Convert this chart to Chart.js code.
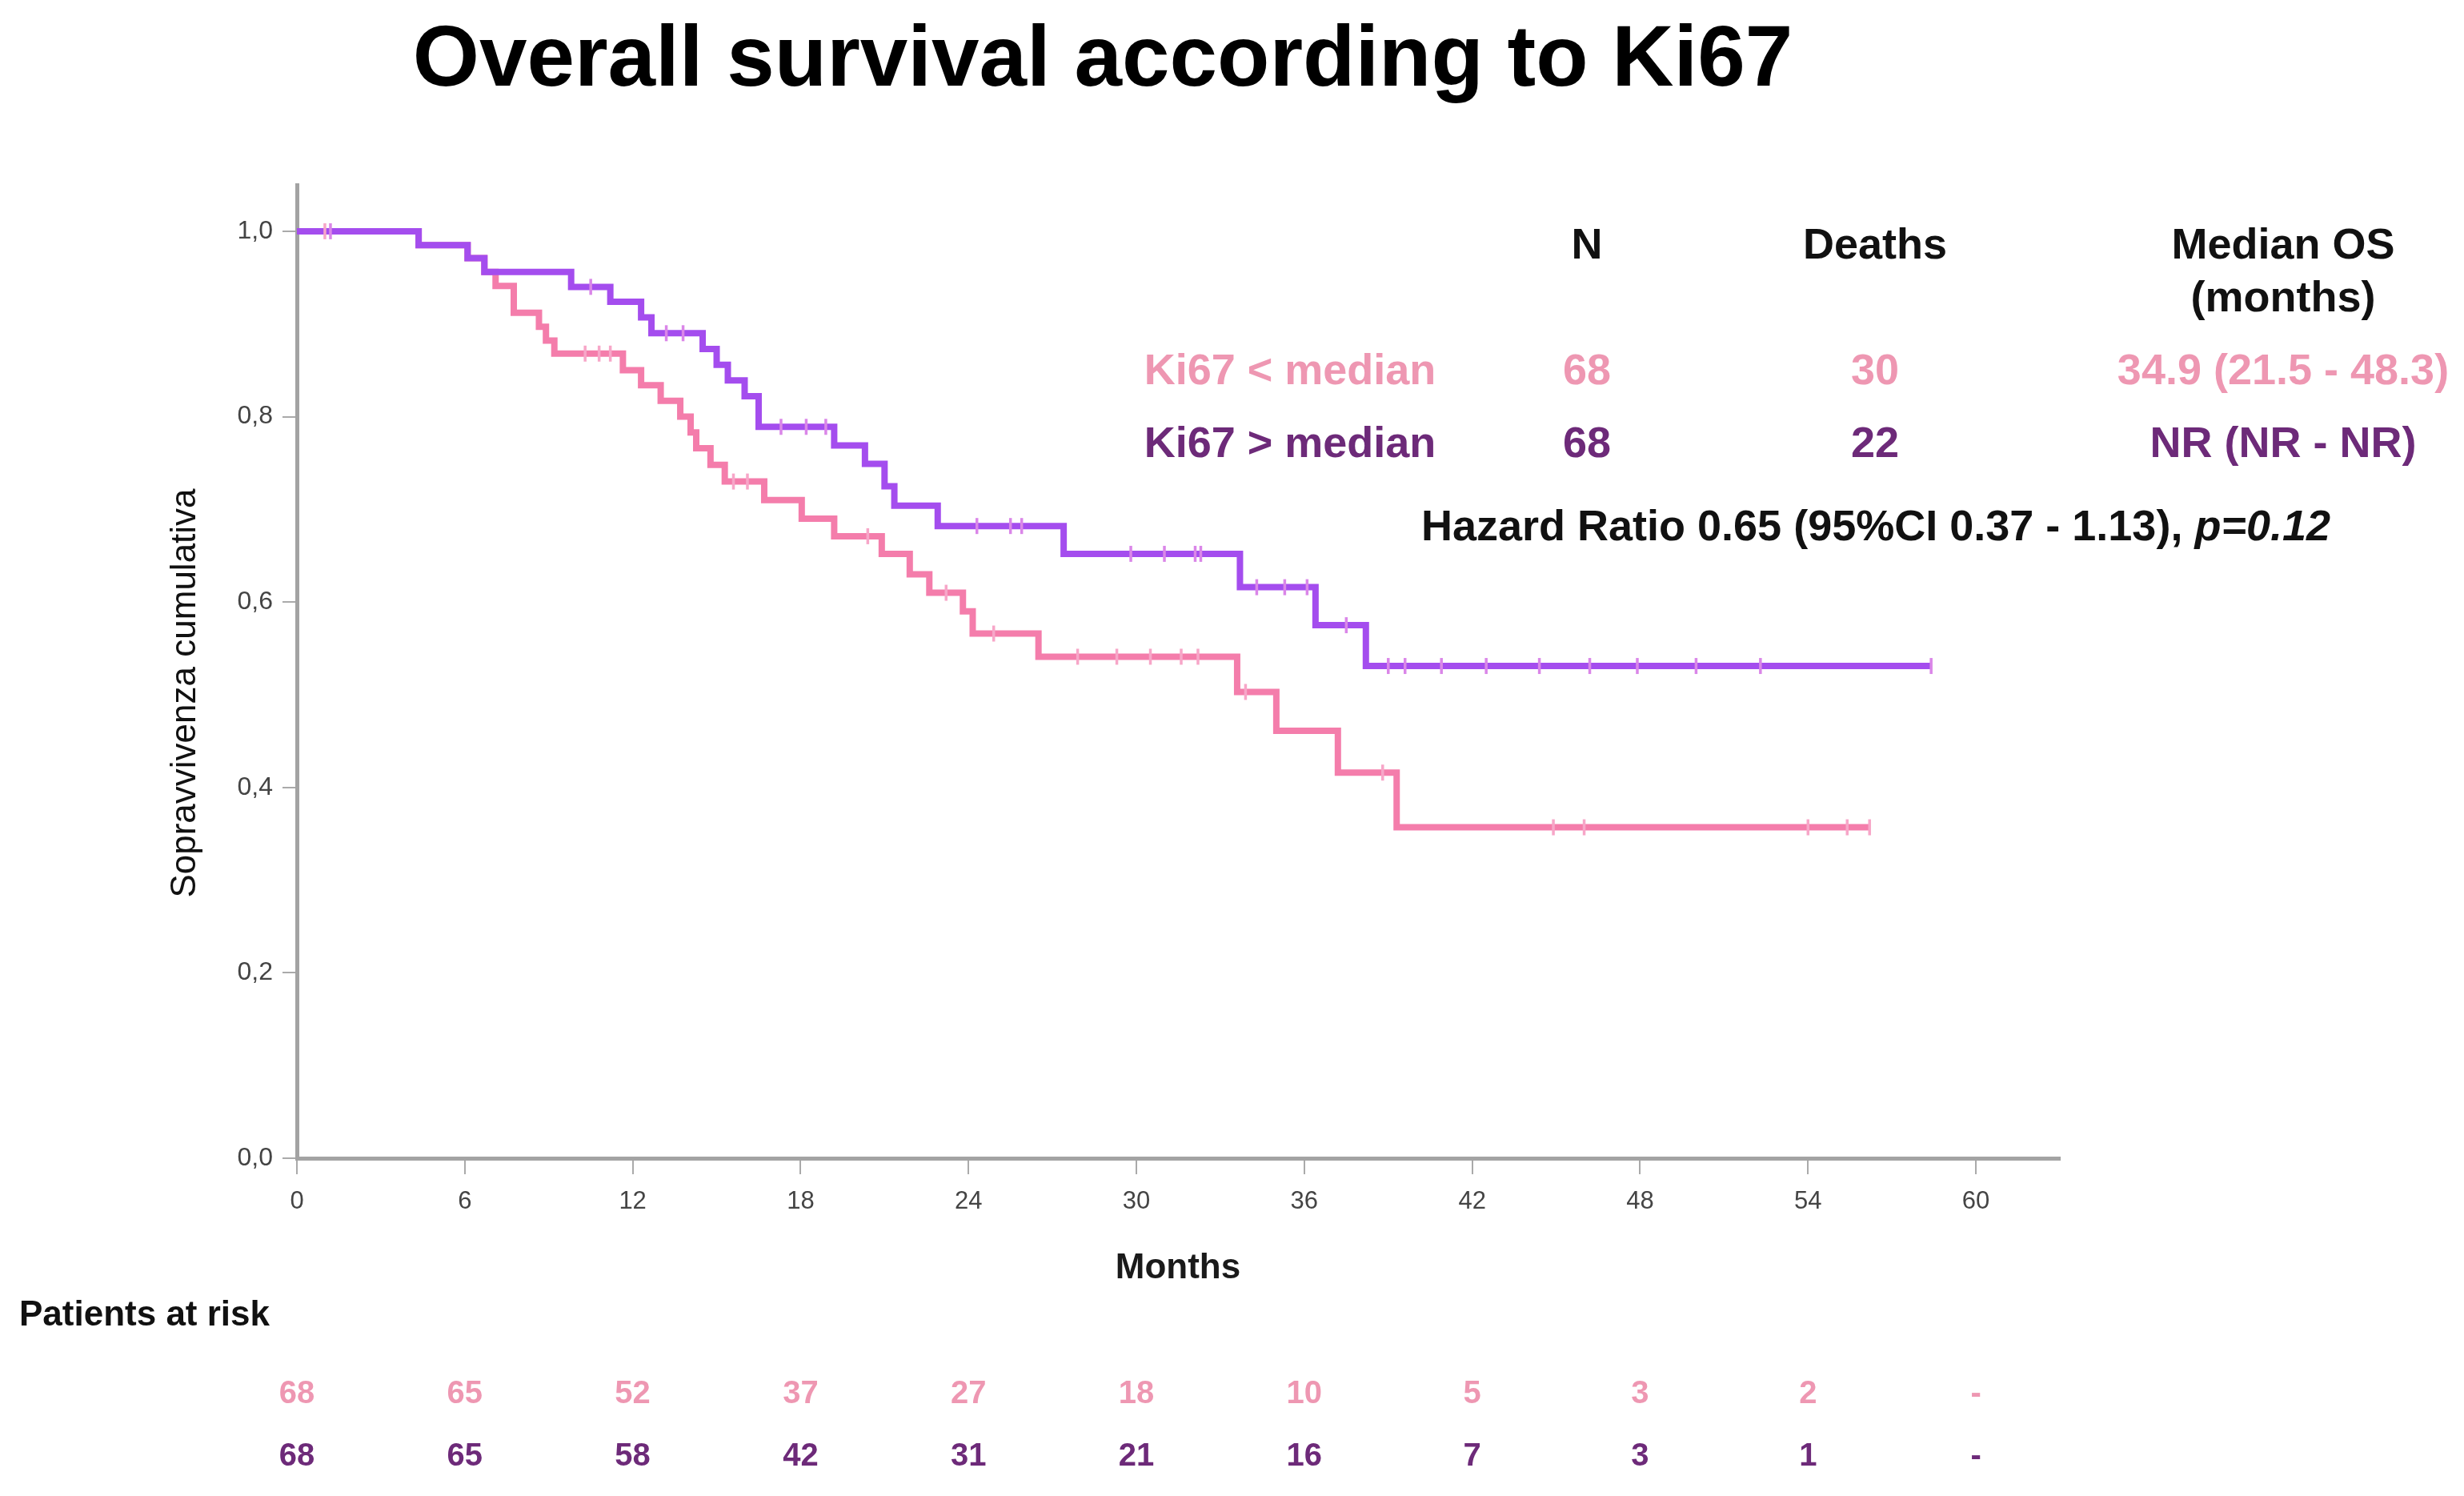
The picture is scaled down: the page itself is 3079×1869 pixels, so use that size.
<!DOCTYPE html>
<html><head><meta charset="utf-8">
<script src="https://cdn.jsdelivr.net/npm/chart.js@4.4.1/dist/chart.umd.min.js"></script>
<style>html,body{margin:0;padding:0;background:#fff;}#wrap{width:3079px;height:1869px;position:relative;background:#fff;}</style>
</head><body><div id="wrap"><canvas id="c" width="3079" height="1869"></canvas></div>
<script>
const FONT = '"Liberation Sans", Arial, Helvetica, sans-serif';
const chartTitle = 'Overall survival according to Ki67';
const xAxisTitle = 'Months';
const yAxisTitle = 'Sopravvivenza cumulativa';
const seriesNames = ['Ki67 < median', 'Ki67 > median'];

// Ki67 < median (pink) Kaplan-Meier steps
const lowTimes = [0, 4.35, 6.1, 6.7, 7.1, 7.75, 8.65, 8.9, 9.2, 11.65, 12.3, 13.0, 13.7, 14.07, 14.27, 14.78, 15.29, 16.7, 18.04, 19.2, 20.9, 21.9, 22.6, 23.8, 24.15, 26.5, 33.6, 35.0, 37.2, 39.3, 56.2];
const lowSurv  = [1.0, 0.985, 0.971, 0.956, 0.941, 0.912, 0.897, 0.882, 0.868, 0.850, 0.834, 0.817, 0.800, 0.783, 0.766, 0.748, 0.730, 0.710, 0.690, 0.671, 0.652, 0.630, 0.610, 0.590, 0.566, 0.541, 0.503, 0.461, 0.416, 0.357, 0.357];
const lowCensor = [1.0, 10.3, 10.8, 11.2, 15.6, 16.1, 20.4, 23.2, 24.9, 27.9, 29.3, 30.5, 31.6, 32.2, 33.9, 38.8, 44.9, 46.0, 54.0, 55.4, 56.2];

// Ki67 > median (purple) Kaplan-Meier steps
const highTimes = [0, 4.35, 6.1, 6.7, 9.8, 11.2, 12.3, 12.67, 14.5, 15.0, 15.4, 16.0, 16.5, 19.2, 20.3, 21.0, 21.35, 22.9, 27.4, 33.7, 36.4, 38.2, 58.4];
const highSurv  = [1.0, 0.985, 0.971, 0.956, 0.940, 0.924, 0.907, 0.890, 0.873, 0.856, 0.839, 0.822, 0.789, 0.769, 0.749, 0.725, 0.704, 0.682, 0.652, 0.616, 0.575, 0.531, 0.531];
const highCensor = [1.2, 10.5, 13.2, 13.8, 17.3, 18.2, 18.9, 24.3, 25.5, 25.9, 29.8, 31.0, 32.1, 32.3, 34.3, 35.3, 36.1, 37.5, 39.0, 39.6, 40.9, 42.5, 44.4, 46.2, 47.9, 50.0, 52.3, 58.4];

const xTicks = [0, 6, 12, 18, 24, 30, 36, 42, 48, 54, 60];
const yTicks = [0, 0.2, 0.4, 0.6, 0.8, 1.0];
const riskTimes = [0, 6, 12, 18, 24, 30, 36, 42, 48, 54, 60];
const riskLow  = ['68', '65', '52', '37', '27', '18', '10', '5', '3', '2', '-'];
const riskHigh = ['68', '65', '58', '42', '31', '21', '16', '7', '3', '1', '-'];
const statHeaders = ['N', 'Deaths', 'Median OS'];
const statSubHeader = '(months)';
const statLow  = ['68', '30', '34.9 (21.5 - 48.3)'];
const statHigh = ['68', '22', 'NR (NR - NR)'];
const hrText = 'Hazard Ratio 0.65 (95%CI 0.37 - 1.13), ';
const pText = 'p=0.12';
const riskTitle = 'Patients at risk';

const PINK_LINE = '#F47DAB', PURPLE_LINE = '#A44DEE';
const PINK_CENS = '#F7A6C8', PURPLE_CENS = '#DA86E8';
const PINK_TEXT = '#EE97B2', PURPLE_TEXT = '#6D2A79';

function survAt(times, surv, t) {
  let v = surv[0];
  for (let i = 0; i < times.length; i++) { if (times[i] <= t) v = surv[i]; }
  return v;
}
const pts = (ts, ss) => ts.map((t, i) => ({x: t, y: ss[i]}));
const cens = (cs, ts, ss) => cs.map(t => ({x: t, y: survAt(ts, ss, t)}));

function txt(ctx, s, x, y, font, color, align) {
  ctx.save(); ctx.font = font; ctx.fillStyle = color; ctx.textAlign = align || 'center';
  ctx.textBaseline = 'middle'; ctx.fillText(s, x, y); ctx.restore();
}

const textPlugin = {
  id: 'texts',
  afterDraw(chart) {
    const ctx = chart.ctx;
    const xs = chart.scales.x;
    txt(ctx, chartTitle, 1378, 77, 'bold 107px ' + FONT, '#000');
    txt(ctx, xAxisTitle, 1472, 1585, 'bold 44px ' + FONT, '#1a1a1a');
    ctx.save(); ctx.translate(232, 866); ctx.rotate(-Math.PI / 2);
    txt(ctx, yAxisTitle, 0, 0, '44px ' + FONT, '#111'); ctx.restore();
    const colX = [1983, 2343, 2853];
    const f = 'bold 54px ' + FONT;
    statHeaders.forEach((h, i) => txt(ctx, h, colX[i], 308, f, '#111'));
    txt(ctx, statSubHeader, colX[2], 374, f, '#111');
    txt(ctx, seriesNames[0], 1612, 465, f, PINK_TEXT);
    txt(ctx, seriesNames[1], 1612, 556, f, PURPLE_TEXT);
    statLow.forEach((s, i) => txt(ctx, s, colX[i], 465, f, PINK_TEXT));
    statHigh.forEach((s, i) => txt(ctx, s, colX[i], 556, f, PURPLE_TEXT));
    ctx.save();
    ctx.font = f; const w1 = ctx.measureText(hrText).width;
    ctx.font = 'italic ' + f; const w2 = ctx.measureText(pText).width;
    ctx.restore();
    const x0 = 2344 - (w1 + w2) / 2;
    txt(ctx, hrText, x0, 660, f, '#111', 'left');
    txt(ctx, pText, x0 + w1, 660, 'italic ' + f, '#111', 'left');
    txt(ctx, riskTitle, 24, 1644, 'bold 44px ' + FONT, '#111', 'left');
    riskTimes.forEach((t, i) => {
      const px = xs.getPixelForValue(t);
      txt(ctx, riskLow[i], px, 1742, 'bold 40px ' + FONT, PINK_TEXT);
      txt(ctx, riskHigh[i], px, 1820, 'bold 40px ' + FONT, PURPLE_TEXT);
    });
  }
};

new Chart(document.getElementById('c'), {
  type: 'line',
  data: {
    datasets: [
      {label: seriesNames[1] + ' censored', type: 'scatter', data: cens(highCensor, highTimes, highSurv), pointStyle: 'line', rotation: 90, pointRadius: 10, pointBorderWidth: 3.5, borderColor: PURPLE_CENS, backgroundColor: PURPLE_CENS, showLine: false, order: 0},
      {label: seriesNames[0] + ' censored', type: 'scatter', data: cens(lowCensor, lowTimes, lowSurv), pointStyle: 'line', rotation: 90, pointRadius: 10, pointBorderWidth: 3.5, borderColor: PINK_CENS, backgroundColor: PINK_CENS, showLine: false, order: 1},
      {label: seriesNames[1], data: pts(highTimes, highSurv), stepped: true, borderColor: PURPLE_LINE, borderWidth: 8, pointRadius: 0, fill: false, order: 2},
      {label: seriesNames[0], data: pts(lowTimes, lowSurv), stepped: true, borderColor: PINK_LINE, borderWidth: 8, pointRadius: 0, fill: false, order: 3}
    ]
  },
  options: {
    responsive: false, animation: false, devicePixelRatio: 1,
    layout: {padding: {left: 0, right: 505, top: 231, bottom: 242}},
    plugins: {legend: {display: false}, tooltip: {enabled: false}, title: {display: false}},
    scales: {
      x: {
        type: 'linear', min: 0, max: 63,
        afterBuildTicks: s => { s.ticks = xTicks.map(v => ({value: v})); },
        afterFit: s => { s.height = 180; },
        ticks: {font: {family: FONT, size: 31}, color: '#444', padding: 16, maxRotation: 0, autoSkip: false},
        grid: {display: true, drawOnChartArea: false, drawTicks: true, tickLength: 20, color: '#aaaaaa', lineWidth: 2},
        border: {display: true, color: '#a3a3a3', width: 5}
      },
      y: {
        type: 'linear', min: 0, max: 1.05,
        afterBuildTicks: s => { s.ticks = yTicks.map(v => ({value: v})); },
        afterFit: s => { s.width = 371; },
        ticks: {font: {family: FONT, size: 32}, color: '#444', padding: 12, autoSkip: false,
          callback: v => v.toFixed(1).replace('.', ',')},
        grid: {display: true, drawOnChartArea: false, drawTicks: true, tickLength: 18, color: '#aaaaaa', lineWidth: 2},
        border: {display: true, color: '#a3a3a3', width: 5}
      }
    }
  },
  plugins: [textPlugin]
});
</script></body></html>
